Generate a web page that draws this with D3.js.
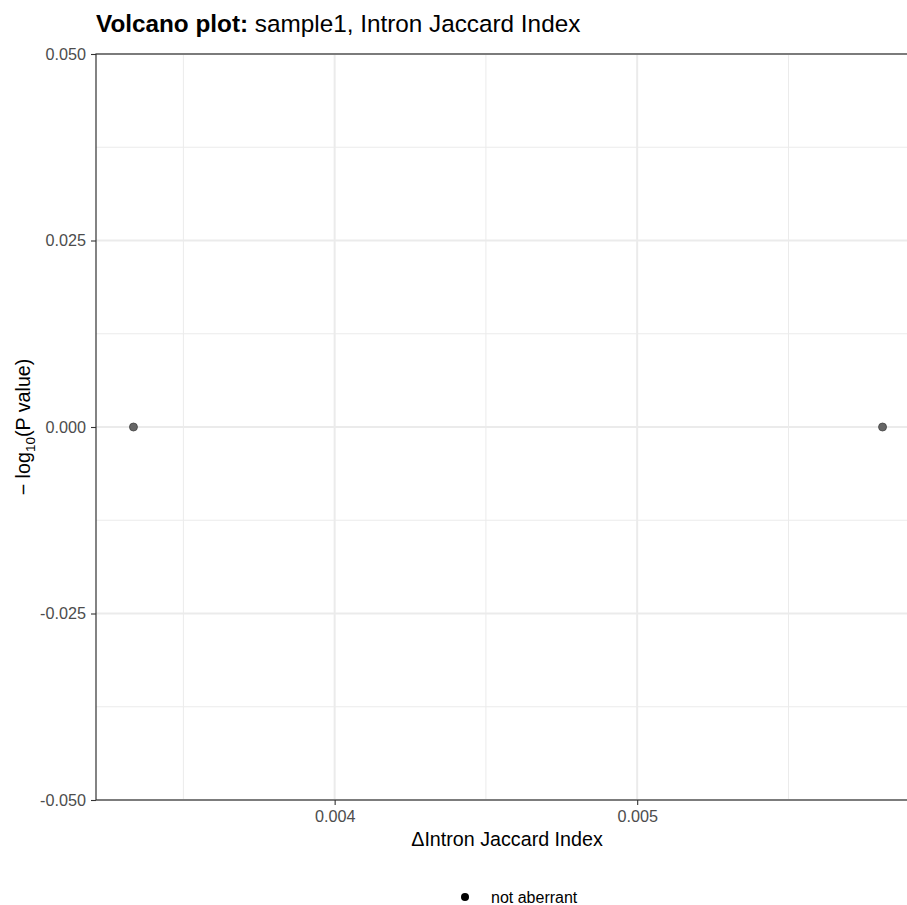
<!DOCTYPE html>
<html>
<head>
<meta charset="utf-8">
<script src="https://cdn.jsdelivr.net/npm/d3@7"></script>
<style>
  body { margin: 0; background: #fff; }
  text { font-family: "Liberation Sans", Arial, sans-serif; }
</style>
</head>
<body>
<div id="chart"></div>
<script>
// data
const deltaJaccard = [0.003335, 0.005811];
const negLogP = [0, 0];
const category = ['not aberrant', 'not aberrant'];
const xTicks = [0.004, 0.005];
const yTicks = [-0.05, -0.025, 0, 0.025, 0.05];

const width = 907, height = 905;
const margin = {top: 54, left: 96, right: -13, bottom: 105};

const svg = d3.select('#chart').append('svg')
  .attr('width', width)
  .attr('height', height);

// ggplot style 5% expansion
const xMin = d3.min(deltaJaccard), xMax = d3.max(deltaJaccard);
const pad = (xMax - xMin) * 0.05;
const x = d3.scaleLinear()
  .domain([xMin - pad, xMax + pad])
  .range([margin.left, width - margin.right]);

const y = d3.scaleLinear()
  .domain([-0.05, 0.05])
  .range([height - margin.bottom, margin.top]);

const fmt = d => d3.format('.3f')(d).replace('\u2212', '-');

// grid
const xMinor = d3.range(0.0035, xMax + pad, 0.001);
const yMinor = [-0.0375, -0.0125, 0.0125, 0.0375];
const grid = svg.append('g');
grid.selectAll('.xm').data(xMinor).join('line')
  .attr('x1', d => x(d)).attr('x2', d => x(d))
  .attr('y1', y(0.05)).attr('y2', y(-0.05))
  .attr('stroke', '#ebebeb').attr('stroke-width', 1);
grid.selectAll('.ym').data(yMinor).join('line')
  .attr('y1', d => y(d)).attr('y2', d => y(d))
  .attr('x1', x.range()[0]).attr('x2', x.range()[1])
  .attr('stroke', '#ebebeb').attr('stroke-width', 1);
grid.selectAll('.xM').data(xTicks).join('line')
  .attr('x1', d => x(d)).attr('x2', d => x(d))
  .attr('y1', y(0.05)).attr('y2', y(-0.05))
  .attr('stroke', '#ebebeb').attr('stroke-width', 2);
grid.selectAll('.yM').data(yTicks).join('line')
  .attr('y1', d => y(d)).attr('y2', d => y(d))
  .attr('x1', x.range()[0]).attr('x2', x.range()[1])
  .attr('stroke', '#ebebeb').attr('stroke-width', 2);

// points
svg.append('g').selectAll('circle')
  .data(deltaJaccard)
  .join('circle')
  .attr('cx', d => x(d))
  .attr('cy', (d, i) => y(negLogP[i]))
  .attr('r', 4)
  .attr('fill', '#666666')
  .attr('stroke', '#444444')
  .attr('stroke-width', 0.8);

// panel border
svg.append('rect')
  .attr('x', x.range()[0]).attr('y', y(0.05))
  .attr('width', x.range()[1] - x.range()[0])
  .attr('height', y(-0.05) - y(0.05))
  .attr('fill', 'none').attr('stroke', '#333333').attr('stroke-width', 1.2);

// axes
function xAxis(g) {
  g.attr('transform', `translate(0,${y(-0.05)})`)
    .call(d3.axisBottom(x).tickValues(xTicks).tickFormat(fmt).tickSize(5).tickPadding(5))
    .call(g => g.select('.domain').remove())
    .call(g => g.selectAll('line').attr('stroke', '#333333').attr('stroke-width', 1.1))
    .call(g => g.selectAll('text').attr('fill', '#4d4d4d').attr('font-size', '16.2px'))
    .attr('font-family', null);
}
function yAxis(g) {
  g.attr('transform', `translate(${x.range()[0]},0)`)
    .call(d3.axisLeft(y).tickValues(yTicks).tickFormat(fmt).tickSize(5).tickPadding(5))
    .call(g => g.select('.domain').remove())
    .call(g => g.selectAll('line').attr('stroke', '#333333').attr('stroke-width', 1.1))
    .call(g => g.selectAll('text').attr('fill', '#4d4d4d').attr('font-size', '16.2px'))
    .attr('font-family', null);
}
svg.append('g').call(xAxis);
svg.append('g').call(yAxis);

// titles
svg.append('text')
  .attr('x', 507).attr('y', 846)
  .attr('text-anchor', 'middle')
  .attr('font-size', '19.7px')
  .text('ΔIntron Jaccard Index');

const yt = svg.append('text')
  .attr('transform', `translate(30,${y(0)}) rotate(-90)`)
  .attr('text-anchor', 'middle')
  .attr('font-size', '19.7px');
yt.append('tspan').text('\u2212 log');
yt.append('tspan').attr('font-size', '13.5px').attr('dy', 5).text('10');
yt.append('tspan').attr('dy', -5).text('(P value)');

const title = svg.append('text')
  .attr('x', 96).attr('y', 32)
  .attr('font-size', '24.3px');
title.append('tspan').attr('font-weight', 'bold').text('Volcano plot:');
title.append('tspan').text(' sample1, Intron Jaccard Index');

// legend
const legend = svg.append('g').attr('transform', 'translate(465,897)');
legend.selectAll('circle').data(Array.from(new Set(category))).join('circle')
  .attr('r', 4).attr('fill', 'black');
legend.selectAll('text').data(Array.from(new Set(category))).join('text')
  .attr('x', 26).attr('dy', '0.35em')
  .attr('font-size', '16px')
  .text(d => d);
</script>
</body>
</html>
